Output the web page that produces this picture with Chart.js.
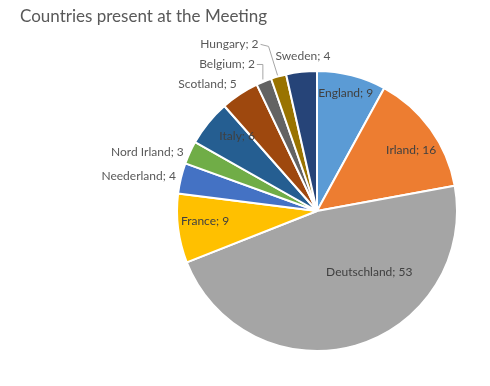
<!DOCTYPE html>
<html>
<head>
<meta charset="utf-8">
<script src="https://cdn.jsdelivr.net/npm/chart.js@4.4.1/dist/chart.umd.min.js"></script>
<style>
  html, body { margin: 0; padding: 0; background: #fff; }
  #wrap { width: 490px; height: 386px; position: relative; }
</style>
</head>
<body>
<div id="wrap"><canvas id="pie" width="490" height="386"></canvas></div>
<script>
// chart data
const countries = ['England', 'Irland', 'Deutschland', 'France', 'Neederland', 'Nord Irland',
                   'Italy', 'Scotland', 'Belgium', 'Hungary', 'Sweden'];
const attendees = [9, 16, 53, 9, 4, 3, 6, 5, 2, 2, 4];
const sliceColors = ['#5B9BD5', '#ED7D31', '#A5A5A5', '#FFC000', '#4472C4', '#70AD47',
                     '#255E91', '#9E480E', '#636363', '#997300', '#264478'];

// label placement: r = fraction of radius, da = angle shift (deg), dx/dy = extra offset
const labelPos = [
    { r: 0.86, da: -2, dx: 3, align: 'center' },
    { r: 0.80, da: 3, align: 'center' },
    { r: 0.56, da: -23, dx: 3, align: 'center' },
    { r: 0.81, da: 2, dx: 1, align: 'center' },
    { r: 1.0, da: 0, dx: -5, dy: -2, align: 'right', outside: true },
    { r: 1.0, da: 0, dx: -6, dy: 0, align: 'right', outside: true },
    { r: 0.78, da: 4, align: 'center' },
    { r: 1.0, da: 0, dx: -3, dy: -10, align: 'right', outside: true },
    { r: 1.0, da: 0, dx: -9, dy: -17, align: 'right', outside: true, leader: 'elbow' },
    { r: 1.0, da: 0, dx: -20, dy: -32, align: 'right', outside: true, leader: 'diag' },
    { r: 1.0, da: 0, dx: -26, dy: -16, align: 'left', outside: true }
];

const labelPlugin = {
    id: 'sliceLabels',
    afterDatasetsDraw(chart) {
        const ctx = chart.ctx;
        const meta = chart.getDatasetMeta(0);
        ctx.save();
        ctx.font = '12px Lato, "Liberation Sans", sans-serif';
        ctx.textBaseline = 'middle';
        meta.data.forEach((arc, i) => {
            const p = labelPos[i];
            const mid = (arc.startAngle + arc.endAngle) / 2 + p.da * Math.PI / 180;
            const rr = arc.outerRadius * p.r;
            const ex = arc.x + Math.cos(mid) * rr;
            const ey = arc.y + Math.sin(mid) * rr;
            const tx = ex + (p.dx || 0);
            const ty = ey + (p.dy || 0);
            const text = countries[i] + '; ' + attendees[i];
            ctx.fillStyle = p.outside ? '#595959' : '#404040';
            ctx.textAlign = p.align;
            ctx.fillText(text, tx, ty);
            if (p.leader) {
                ctx.strokeStyle = '#A6A6A6';
                ctx.lineWidth = 1;
                ctx.beginPath();
                ctx.moveTo(tx + 2, ty);
                if (p.leader === 'elbow') {
                    ctx.lineTo(ex - 1, ty);
                    ctx.lineTo(ex - 1, ey - 2);
                } else {
                    ctx.lineTo(tx + 10, ty + 2);
                    ctx.lineTo(ex - 1, ey - 1);
                }
                ctx.stroke();
            }
        });
        // title
        ctx.font = '17px Lato, "Liberation Sans", sans-serif';
        ctx.fillStyle = '#595959';
        ctx.textAlign = 'left';
        ctx.fillText('Countries present at the Meeting', 20, 17);
        ctx.restore();
    }
};

new Chart(document.getElementById('pie'), {
    type: 'pie',
    data: {
        labels: countries,
        datasets: [{
            data: attendees,
            backgroundColor: sliceColors,
            borderColor: '#ffffff',
            borderWidth: 2
        }]
    },
    options: {
        responsive: false,
        animation: false,
        layout: {
            padding: { left: 176, right: 32, top: 70, bottom: 34 }
        },
        plugins: {
            legend: { display: false },
            tooltip: { enabled: false },
            title: { display: false }
        }
    },
    plugins: [labelPlugin]
});
</script>
</body>
</html>
